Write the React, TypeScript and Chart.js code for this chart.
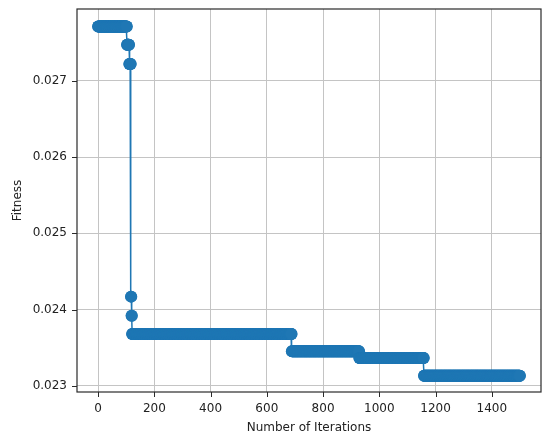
import React, { useEffect, useRef } from "react";
import { Chart, registerables } from "chart.js";

Chart.register(...registerables);

// Step-wise best fitness: each entry starts at an iteration and holds its value until the next one.
const stepStartIter = [0, 103, 111, 117, 119, 121, 689, 929, 1159];
const stepFitness = [0.02771, 0.02747, 0.02722, 0.02417, 0.02392, 0.02368, 0.023453, 0.023366, 0.023134];
const lastIteration = 1500;

const xTickValues = [0, 200, 400, 600, 800, 1000, 1200, 1400];
const yTickValues = [0.023, 0.024, 0.025, 0.026, 0.027];

const xTitle = "Number of Iterations";
const yTitle = "Fitness";

function buildPoints() {
  const pts: { x: number; y: number }[] = [];
  let s = 0;
  for (let i = 0; i <= lastIteration; i++) {
    while (s + 1 < stepStartIter.length && stepStartIter[s + 1] <= i) s++;
    pts.push({ x: i, y: stepFitness[s] });
  }
  return pts;
}

const framePlugin = {
  id: "frameTicks",
  afterDraw(chart: any) {
    const { ctx, chartArea } = chart;
    const { left, right, top, bottom } = chartArea;
    ctx.save();
    ctx.strokeStyle = "#2a2a2a";
    ctx.lineWidth = 1.2;
    ctx.strokeRect(left, top, right - left, bottom - top);
    ctx.lineWidth = 1;
    ctx.beginPath();
    const xs = chart.scales.x;
    xTickValues.forEach((v) => {
      const px = Math.round(xs.getPixelForValue(v)) + 0.5;
      ctx.moveTo(px, bottom);
      ctx.lineTo(px, bottom + 5);
    });
    const ys = chart.scales.y;
    yTickValues.forEach((v) => {
      const py = Math.round(ys.getPixelForValue(v)) + 0.5;
      ctx.moveTo(left - 5, py);
      ctx.lineTo(left, py);
    });
    ctx.stroke();
    ctx.restore();
  },
};

const bgPlugin = {
  id: "whiteBg",
  beforeDraw(chart: any) {
    const { ctx, width, height } = chart;
    ctx.save();
    ctx.fillStyle = "#ffffff";
    ctx.fillRect(0, 0, width, height);
    ctx.restore();
  },
};

export default function App() {
  const ref = useRef<HTMLCanvasElement | null>(null);

  useEffect(() => {
    if (!ref.current) return;
    const font = { family: "'DejaVu Sans', sans-serif", size: 12 };
    const chart = new Chart(ref.current, {
      type: "line",
      data: {
        datasets: [
          {
            data: buildPoints(),
            borderColor: "#1f77b4",
            backgroundColor: "#1f77b4",
            borderWidth: 1.5,
            pointRadius: 6,
            pointBorderWidth: 0,
            pointBackgroundColor: "#1f77b4",
            pointHoverRadius: 6,
            tension: 0,
          },
        ],
      },
      options: {
        animation: false,
        responsive: false,
        devicePixelRatio: 1,
        events: [],
        layout: { autoPadding: false, padding: { top: 9, right: 9, left: 0, bottom: 0 } },
        plugins: { legend: { display: false }, tooltip: { enabled: false }, title: { display: false } },
        scales: {
          x: {
            type: "linear",
            min: -75,
            max: 1575,
            afterBuildTicks: (s: any) => {
              s.ticks = xTickValues.map((v) => ({ value: v }));
            },
            afterFit: (s: any) => {
              s.height = 50;
              s.paddingLeft = 0;
              s.paddingRight = 0;
            },
            grid: { color: "#c4c4c4", lineWidth: 1, drawTicks: false },
            border: { display: false },
            ticks: {
              font,
              color: "#222",
              padding: 10,
              maxRotation: 0,
              autoSkip: false,
              callback: (v: any) => String(v),
            },
            title: { display: true, text: xTitle, font, color: "#222", padding: { top: 0, bottom: 7 } },
          },
          y: {
            type: "linear",
            min: 0.02292,
            max: 0.02794,
            afterBuildTicks: (s: any) => {
              s.ticks = yTickValues.map((v) => ({ value: v }));
            },
            afterFit: (s: any) => {
              s.width = 77;
              s.paddingTop = 0;
              s.paddingBottom = 0;
            },
            grid: { color: "#c4c4c4", lineWidth: 1, drawTicks: false },
            border: { display: false },
            ticks: {
              font,
              color: "#222",
              padding: 10,
              autoSkip: false,
              callback: (v: any) => Number(v).toFixed(3),
            },
            title: { display: true, text: yTitle, font, color: "#222", padding: { top: 11, bottom: 0 } },
          },
        },
      },
      plugins: [bgPlugin, framePlugin],
    });
    return () => chart.destroy();
  }, []);

  return (
    <div style={{ position: "fixed", left: 0, top: 0, width: 550, height: 442, background: "#fff" }}>
      <canvas ref={ref} width={550} height={442} style={{ display: "block", width: 550, height: 442 }} />
    </div>
  );
}
